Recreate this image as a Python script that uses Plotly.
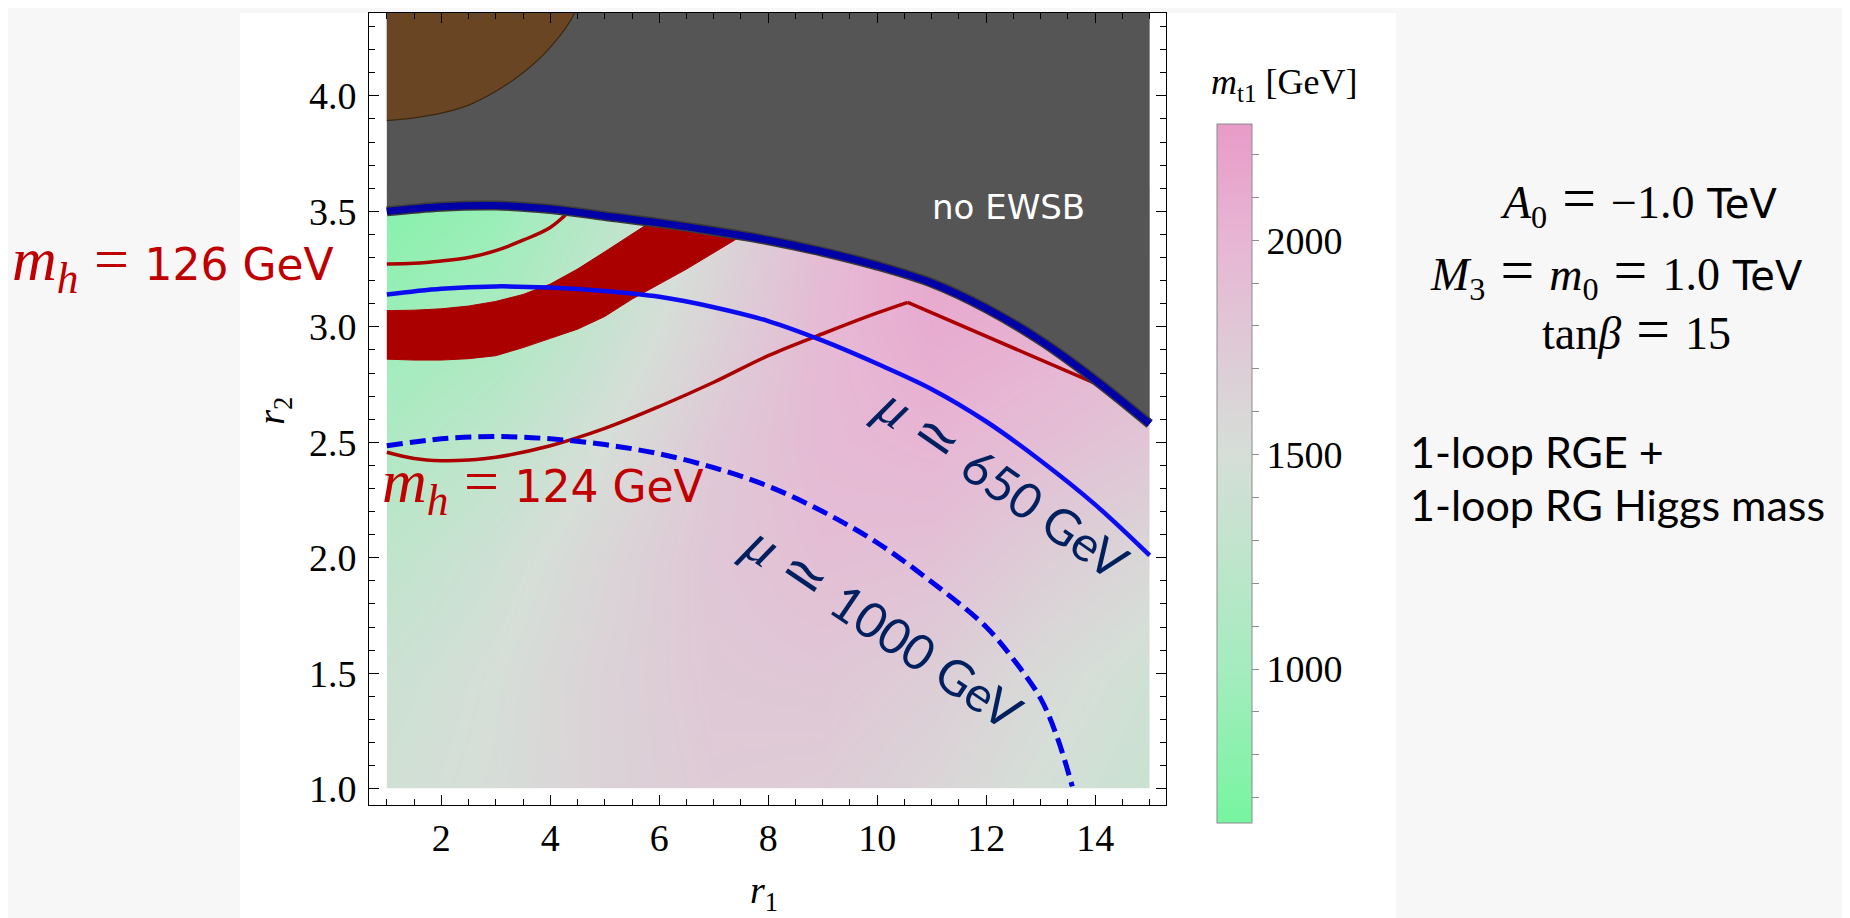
import plotly.graph_objects as go

W, H = 1850, 918

# ---------------- data ----------------
grid_r1 = [1, 3, 5, 7, 9, 11, 13, 15]
grid_r2 = [1.0, 1.5, 2.0, 2.5, 3.0, 3.6]
mt1_grid = [
    [1440, 1520, 1650, 1740, 1720, 1620, 1480, 1370],
    [1390, 1500, 1650, 1770, 1790, 1710, 1560, 1430],
    [1270, 1420, 1610, 1790, 1890, 1860, 1710, 1590],
    [1100, 1270, 1500, 1760, 1950, 2000, 1900, 1800],
    [920, 1060, 1350, 1650, 1950, 2100, 2050, 1950],
    [760, 880, 1180, 1550, 1900, 2150, 2150, 2050],
]

ewsb_r1 = [1.0, 2.0, 3.0, 4.0, 5.0, 6.0, 7.0, 8.0, 9.0, 10.0, 11.0, 12.0, 13.0, 14.0, 15.0]
ewsb_r2 = [3.50, 3.52, 3.525, 3.51, 3.48, 3.45, 3.415, 3.375, 3.325, 3.265, 3.19, 3.08, 2.94, 2.77, 2.58]

brown_r1 = [1.0, 1.5, 2.0, 2.5, 3.0, 3.5, 4.0, 4.45, 4.6, 1.0]
brown_r2 = [3.893, 3.905, 3.925, 3.96, 4.02, 4.10, 4.21, 4.36, 4.5, 4.5]

mu650_r1 = [1, 2, 3, 4, 5, 6, 7, 8, 9, 10, 11, 12, 13, 14, 15]
mu650_r2 = [3.14, 3.165, 3.175, 3.17, 3.155, 3.13, 3.085, 3.025, 2.94, 2.84, 2.73, 2.59, 2.42, 2.23, 2.01]

mu1000_r1 = [1, 2, 3, 4, 5, 6, 7, 8, 9, 10, 11, 12, 12.5, 13, 13.3, 13.58]
mu1000_r2 = [2.485, 2.515, 2.525, 2.515, 2.49, 2.45, 2.39, 2.31, 2.20, 2.065, 1.895, 1.70, 1.56, 1.39, 1.225, 1.01]

mh124_r1 = [1.0, 1.5, 2.0, 2.5, 3.0, 4.0, 5.0, 6.0, 7.0, 8.0, 9.0, 10.0, 10.56, 11.5, 12.5, 14.1]
mh124_r2 = [2.457, 2.43, 2.42, 2.423, 2.435, 2.485, 2.56, 2.655, 2.76, 2.875, 2.97, 3.06, 3.106, 3.01, 2.905, 2.745]
mh124_kink = 12  # index of the kink point

mh126_line_r1 = [1.0, 1.5, 2.0, 2.5, 3.0, 3.5, 4.0, 4.35]
mh126_line_r2 = [3.272, 3.275, 3.285, 3.30, 3.33, 3.375, 3.43, 3.50]

band_up_r1 = [1.0, 1.5, 2.0, 2.5, 3.0, 3.5, 4.0, 4.5, 5.0, 5.5, 5.85]
band_up_r2 = [3.07, 3.072, 3.078, 3.09, 3.11, 3.14, 3.185, 3.25, 3.325, 3.40, 3.455]
band_lo_r1 = [1.0, 1.5, 2.0, 2.5, 3.0, 3.5, 4.0, 4.5, 5.0, 5.5, 6.0, 6.5, 7.0, 7.45]
band_lo_r2 = [2.86, 2.856, 2.856, 2.862, 2.875, 2.91, 2.95, 2.99, 3.045, 3.12, 3.185, 3.25, 3.32, 3.385]

cbar_min, cbar_max = 640, 2270
cbar_tickvals = list(range(700, 2300, 100))
cbar_ticktext = [str(v) if v % 500 == 0 else "" for v in cbar_tickvals]
x_ticks = [2, 4, 6, 8, 10, 12, 14]
y_ticks = [1.0, 1.5, 2.0, 2.5, 3.0, 3.5, 4.0]

# ---------------- styling ----------------
RED = "#aa0000"
RED_TXT = "#c00000"
NAVY = "#002060"
TOP_Y = 4.5

colorscale = [
    [0.0, "rgb(118,245,160)"],
    [0.22, "rgb(165,236,190)"],
    [0.53, "rgb(214,222,216)"],
    [0.83, "rgb(231,182,212)"],
    [1.0, "rgb(232,155,200)"],
]

fig = go.Figure()

fig.add_trace(go.Contour(
    x=grid_r1, y=grid_r2, z=mt1_grid,
    contours=dict(coloring="heatmap", showlines=False), line=dict(width=0),
    colorscale=colorscale, zmin=cbar_min, zmax=cbar_max, ncontours=40,
    hoverinfo="skip",
    colorbar=dict(
        thickness=35, thicknessmode="pixels", len=699, lenmode="pixels",
        x=1209 / W, xanchor="left", y=1 - 468.5 / H, yanchor="middle",
        xpad=0, ypad=0, outlinewidth=1, outlinecolor="#8c8c8c",
        ticks="outside", ticklen=7, tickcolor="#8c8c8c",
        tickvals=cbar_tickvals, ticktext=cbar_ticktext,
        tickfont=dict(family="Liberation Serif", size=38, color="black"),
    ),
))

# no-EWSB region
fig.add_trace(go.Scatter(
    x=ewsb_r1 + [ewsb_r1[-1], ewsb_r1[0]], y=ewsb_r2 + [TOP_Y, TOP_Y],
    fill="toself", fillcolor="#555555", mode="lines", line=dict(width=0),
    hoverinfo="skip", showlegend=False))

# brown region
fig.add_trace(go.Scatter(
    x=brown_r1, y=brown_r2, fill="toself", fillcolor="#6a4524", mode="lines",
    line=dict(width=1.2, color="#3b2810", shape="spline"), hoverinfo="skip", showlegend=False))

# m_h = 126 band
fig.add_trace(go.Scatter(
    x=band_up_r1 + band_lo_r1[::-1], y=band_up_r2 + band_lo_r2[::-1],
    fill="toself", fillcolor=RED, mode="lines", line=dict(width=1, color=RED),
    hoverinfo="skip", showlegend=False))

# m_h = 126 thin line
fig.add_trace(go.Scatter(
    x=mh126_line_r1, y=mh126_line_r2, mode="lines",
    line=dict(width=3.5, color=RED, shape="spline"), hoverinfo="skip", showlegend=False))

# m_h = 124 line (kinked)
fig.add_trace(go.Scatter(
    x=mh124_r1[:mh124_kink + 1], y=mh124_r2[:mh124_kink + 1], mode="lines",
    line=dict(width=3.5, color=RED, shape="spline"), hoverinfo="skip", showlegend=False))
fig.add_trace(go.Scatter(
    x=mh124_r1[mh124_kink:], y=mh124_r2[mh124_kink:], mode="lines",
    line=dict(width=3.5, color=RED), hoverinfo="skip", showlegend=False))

# mu lines
fig.add_trace(go.Scatter(
    x=mu650_r1, y=mu650_r2, mode="lines",
    line=dict(width=4.5, color="#0c0cf0", shape="spline"), hoverinfo="skip", showlegend=False))
fig.add_trace(go.Scatter(
    x=mu1000_r1, y=mu1000_r2, mode="lines",
    line=dict(width=5, color="#0000e8", shape="spline", dash="16px,7px"),
    hoverinfo="skip", showlegend=False))

# EWSB boundary
fig.add_trace(go.Scatter(
    x=ewsb_r1, y=ewsb_r2, mode="lines",
    line=dict(width=10, color="#3a3a3a", shape="spline"), hoverinfo="skip", showlegend=False))
fig.add_trace(go.Scatter(
    x=ewsb_r1, y=ewsb_r2, mode="lines",
    line=dict(width=7, color="#0000a6", shape="spline"), hoverinfo="skip", showlegend=False))


def P(px, py):
    return dict(x=px / W, y=1 - py / H, xref="paper", yref="paper")


SERIF = "Liberation Serif"
SANS = "Lato"
WIDE = "DejaVu Sans"
ann = []


def add(text, px, py, size, color="black", family=SANS, xanchor="center", angle=0):
    d = P(px, py)
    d.update(text=text, showarrow=False, xanchor=xanchor, yanchor="middle",
             textangle=angle, font=dict(family=family, size=size, color=color))
    ann.append(d)


def span(t, family, size):
    return "<span style='font-family:%s;font-size:%dpx'>%s</span>" % (family, size, t)


mh = span("<i>m</i><sub><i>h</i></sub> = ", SERIF, 62)
mu = span("<i>μ</i> ≃ ", SERIF, 56)
EQ = span(" = ", SERIF, 60)
TEV = span(" TeV", WIDE, 40)

add("no EWSB", 1000, 200, 34, color="white", family=WIDE)
add(mh + "126 GeV", 2, 257, 44, color=RED_TXT, family=WIDE, xanchor="left")
add(mh + "124 GeV", 372, 480, 44, color=RED_TXT, family=WIDE, xanchor="left")
add(mu + "650 GeV", 995, 478, 49, color=NAVY, angle=35)
add(mu + "1000 GeV", 876, 622, 49, color=NAVY, angle=34)

add("<i>A</i><sub>0</sub>" + EQ + "−1.0" + TEV, 1630, 193, 46, family=SERIF)
add("<i>M</i><sub>3</sub>" + EQ + "<i>m</i><sub>0</sub>" + EQ + "1.0" + TEV, 1608, 265, 46, family=SERIF)
add("tan<i>β</i>" + EQ + "15", 1628, 323, 46, family=SERIF)
add("1-loop RGE +", 1400, 446, 43, xanchor="left")
add("1-loop RG Higgs mass", 1400, 499, 43, xanchor="left")

add("<i>m</i><sub>t1</sub> [GeV]", 1276, 77, 36, family=SERIF)
add("<i>r</i><sub>2</sub>", 266, 405, 38, family=SERIF, angle=-90)
add("<i>r</i><sub>1</sub>", 756, 890, 38, family=SERIF)

axis_common = dict(
    showline=True, linecolor="black", linewidth=1, mirror="ticks",
    ticks="inside", ticklen=10, tickcolor="black", tickwidth=1,
    showgrid=False, zeroline=False,
    tickfont=dict(family=SERIF, size=38, color="black"),
)

fig.update_layout(
    width=W, height=H, margin=dict(l=0, r=0, t=0, b=0),
    paper_bgcolor="#f7f7f7", plot_bgcolor="white",
    showlegend=False,
    xaxis=dict(domain=[361 / W, 1158 / W], range=[0.673, 15.30],
               tickvals=x_ticks, ticklabelstandoff=0,
               minor=dict(dtick=0.5, tick0=0, ticks="inside", ticklen=6, tickcolor="black"),
               **axis_common),
    yaxis=dict(domain=[1 - 801 / H, 1 - 5 / H], range=[0.931, 4.359],
               tickvals=y_ticks, tickformat=".1f", ticklabelstandoff=4,
               minor=dict(dtick=0.1, tick0=0, ticks="inside", ticklen=6, tickcolor="black"),
               **axis_common),
    annotations=ann,
    shapes=[dict(type="rect", xref="paper", yref="paper", x0=232 / W, x1=1388 / W,
                 y0=0, y1=1 - 5 / H, fillcolor="white", line=dict(width=0), layer="below")],
)

fig.write_html("out.html")
